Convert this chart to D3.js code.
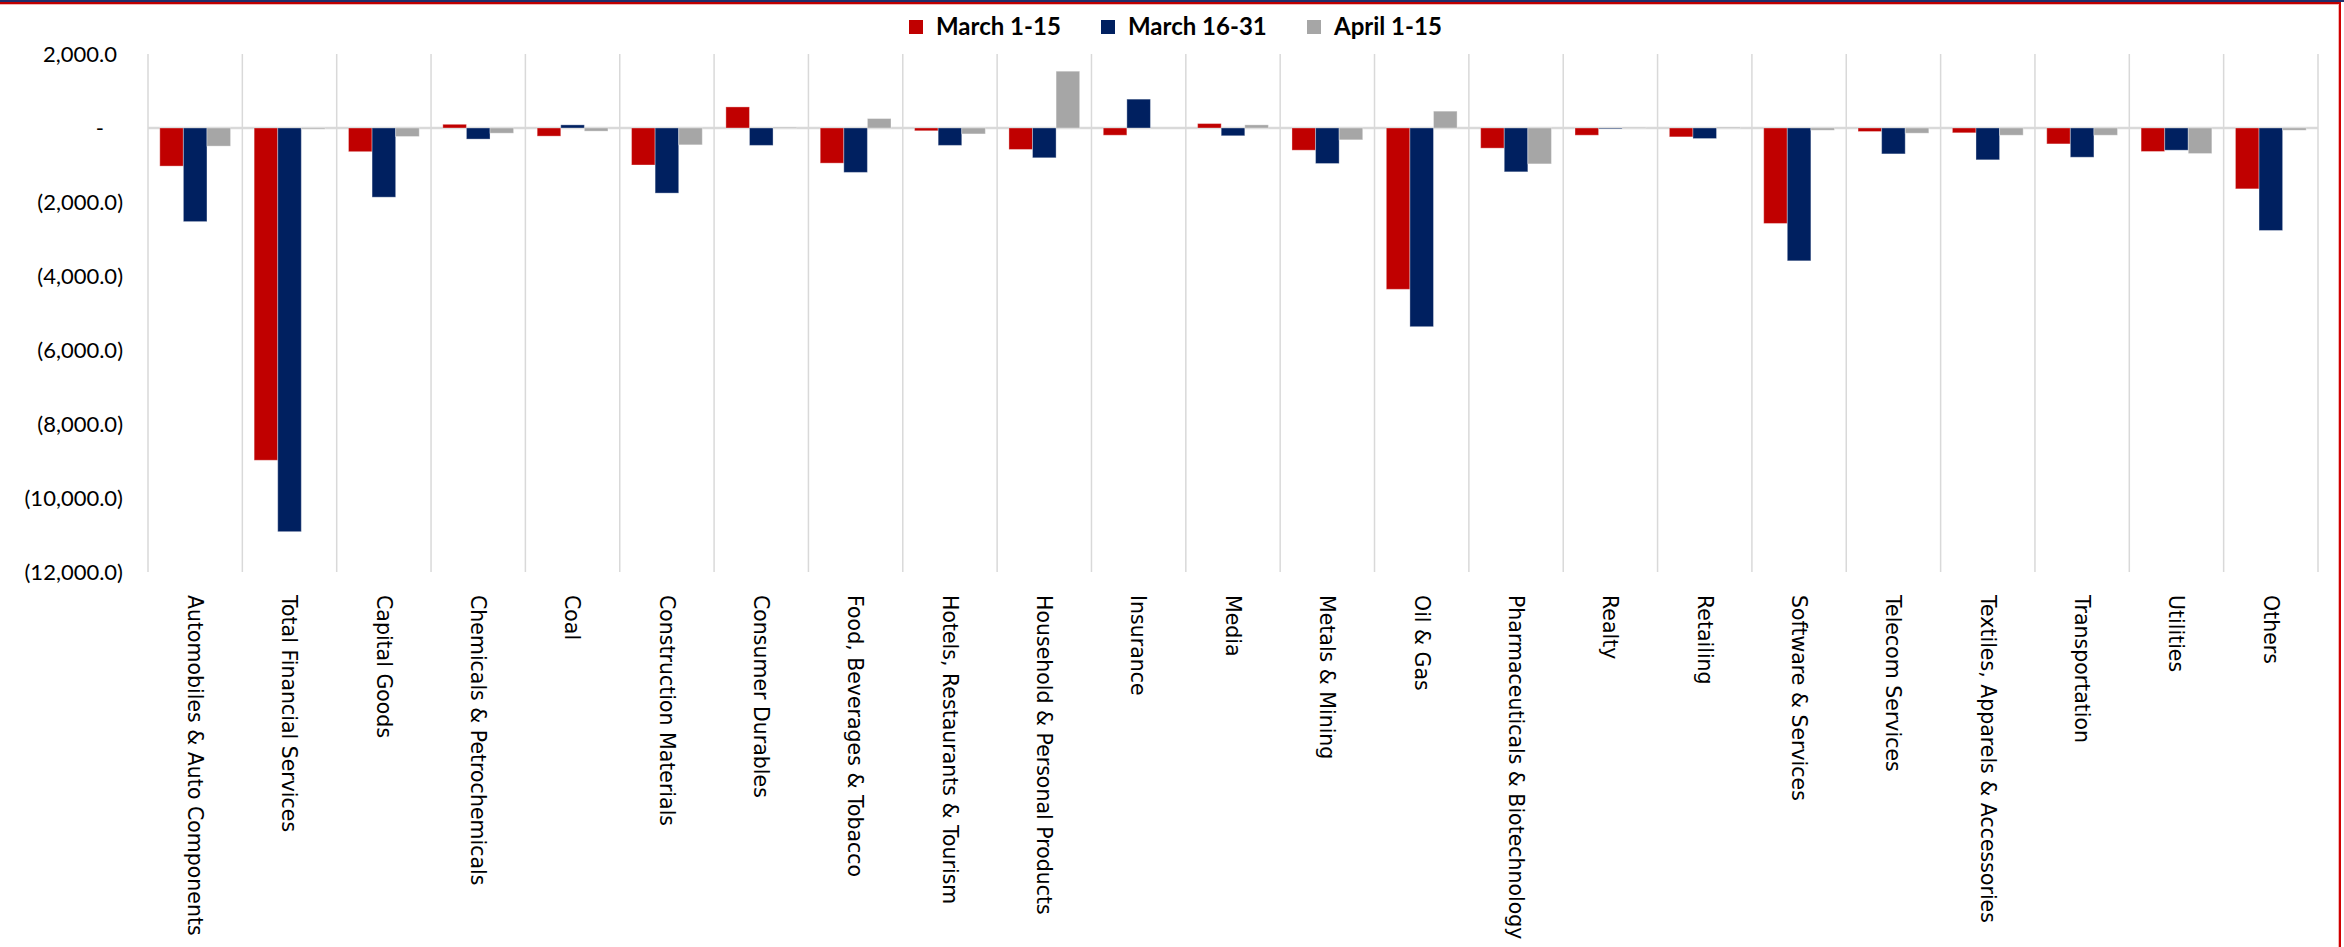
<!DOCTYPE html>
<html>
<head>
<meta charset="utf-8">
<script src="https://cdn.jsdelivr.net/npm/d3@7"></script>
<style>
  html, body { margin: 0; padding: 0; background: #ffffff; }
  svg { display: block; }
</style>
</head>
<body>
<svg id="chart" width="2344" height="947"></svg>
<script>
const categories = [
  "Automobiles & Auto Components", "Total Financial Services", "Capital Goods",
  "Chemicals & Petrochemicals", "Coal", "Construction Materials", "Consumer Durables",
  "Food, Beverages & Tobacco", "Hotels, Restaurants & Tourism", "Household & Personal Products",
  "Insurance", "Media", "Metals & Mining", "Oil & Gas", "Pharmaceuticals & Biotechnology",
  "Realty", "Retailing", "Software & Services", "Telecom Services",
  "Textiles, Apparels & Accessories", "Transportation", "Utilities", "Others"
];
const seriesNames = ["March 1-15", "March 16-31", "April 1-15"];
const seriesColors = ["#C00000", "#002060", "#A6A6A6"];
const march1to15 = [-1030, -8980, -640, 100, -220, -1000, 570, -950, -75, -580, -195, 120, -600, -4360, -545, -195, -240, -2580, -95, -130, -430, -635, -1645];
const march16to31 = [-2530, -10910, -1870, -300, 85, -1760, -470, -1200, -470, -805, 780, -210, -960, -5370, -1185, -20, -285, -3590, -700, -860, -790, -600, -2770];
const april1to15 = [-490, -30, -230, -140, -85, -455, 20, 255, -160, 1535, 0, 85, -320, 455, -970, 15, 20, -60, -140, -195, -195, -690, -60];
const yTicks = [2000, 0, -2000, -4000, -6000, -8000, -10000, -12000];

const seriesValues = [march1to15, march16to31, april1to15];

const svg = d3.select("#chart");
const W = 2344, H = 947;
const plot = { left: 148, right: 2318, top: 54, bottom: 572 };

// frame decorations
svg.append("rect").attr("x", 0).attr("y", 0).attr("width", W).attr("height", 2).attr("fill", "#1f2f6b");
svg.append("rect").attr("x", 0).attr("y", 2).attr("width", W - 3).attr("height", 2).attr("fill", "#C00000");
svg.append("rect").attr("x", 0).attr("y", 4).attr("width", W - 4).attr("height", 1).attr("fill", "#f2b6b6");
svg.append("rect").attr("x", W - 5).attr("y", 3).attr("width", 2).attr("height", H - 3).attr("fill", "#D00000");
svg.append("rect").attr("x", W - 6).attr("y", 5).attr("width", 1).attr("height", H - 5).attr("fill", "#f2b6b6");

const x0 = d3.scaleBand().domain(categories).range([plot.left, plot.right]).paddingInner(0).paddingOuter(0);
const bw = x0.bandwidth();
const x1 = d3.scaleBand().domain(seriesNames).range([bw * 0.125, bw * 0.875]).padding(0);
const y = d3.scaleLinear().domain([-12000, 2000]).range([plot.bottom, plot.top]);

// vertical gridlines at category boundaries
const bounds = categories.map(c => x0(c)).concat([plot.right]);
svg.append("g").selectAll("line").data(bounds).join("line")
  .attr("x1", d => d).attr("x2", d => d)
  .attr("y1", plot.top).attr("y2", plot.bottom)
  .attr("stroke", "#d9d9d9").attr("stroke-width", 1.5);

// zero line
svg.append("line")
  .attr("x1", plot.left).attr("x2", plot.right)
  .attr("y1", y(0)).attr("y2", y(0))
  .attr("stroke", "#d9d9d9").attr("stroke-width", 2.5);

// bars
const rows = [];
categories.forEach((c, i) => {
  seriesNames.forEach((s, j) => rows.push({ cat: c, series: s, j, value: seriesValues[j][i] }));
});
svg.append("g").selectAll("rect").data(rows).join("rect")
  .attr("x", d => x0(d.cat) + x1(d.series))
  .attr("width", x1.bandwidth())
  .attr("y", d => y(Math.max(0, d.value)))
  .attr("height", d => Math.abs(y(d.value) - y(0)))
  .attr("fill", d => seriesColors[d.j])
  .attr("stroke", "rgba(255,255,255,0.35)")
  .attr("stroke-width", 1);

// y axis
const fmt = d3.format(",.1f");
const yAxis = d3.axisLeft(y).tickValues(yTicks).tickSize(0).tickPadding(0)
  .tickFormat(d => d === 0 ? "-" : (d < 0 ? "(" + fmt(-d) + ")" : fmt(d)));
const gy = svg.append("g").attr("transform", "translate(123,0)").call(yAxis);
gy.select(".domain").remove();
gy.selectAll("text")
  .attr("font-family", "Lato, 'Open Sans', sans-serif")
  .attr("font-size", 22)
  .attr("fill", "#000")
  .attr("dx", d => d === 0 ? -19 : (d > 0 ? -6 : 0));

// category labels
const xAxis = d3.axisBottom(x0).tickSize(0).tickPadding(0);
const gx = svg.append("g").attr("transform", "translate(0,595)").call(xAxis);
gx.select(".domain").remove();
gx.selectAll("text")
  .attr("font-family", "'DejaVu Sans', Verdana, sans-serif")
  .attr("font-size", 20.5)
  .attr("fill", "#000")
  .attr("text-anchor", "start")
  .attr("dy", "0.35em")
  .attr("y", 0)
  .attr("transform", "rotate(90)");

// legend
const legendX = [909, 1101, 1307];
const lg = svg.append("g").selectAll("g").data(seriesNames).join("g")
  .attr("transform", (d, i) => `translate(${legendX[i]},20)`);
lg.append("rect").attr("width", 14).attr("height", 14).attr("fill", (d, i) => seriesColors[i]);
lg.append("text").attr("x", 27).attr("y", 15)
  .attr("font-family", "Lato, 'Open Sans', sans-serif")
  .attr("font-weight", "bold")
  .attr("font-size", 24)
  .attr("fill", "#000")
  .text(d => d);
</script>
</body>
</html>
